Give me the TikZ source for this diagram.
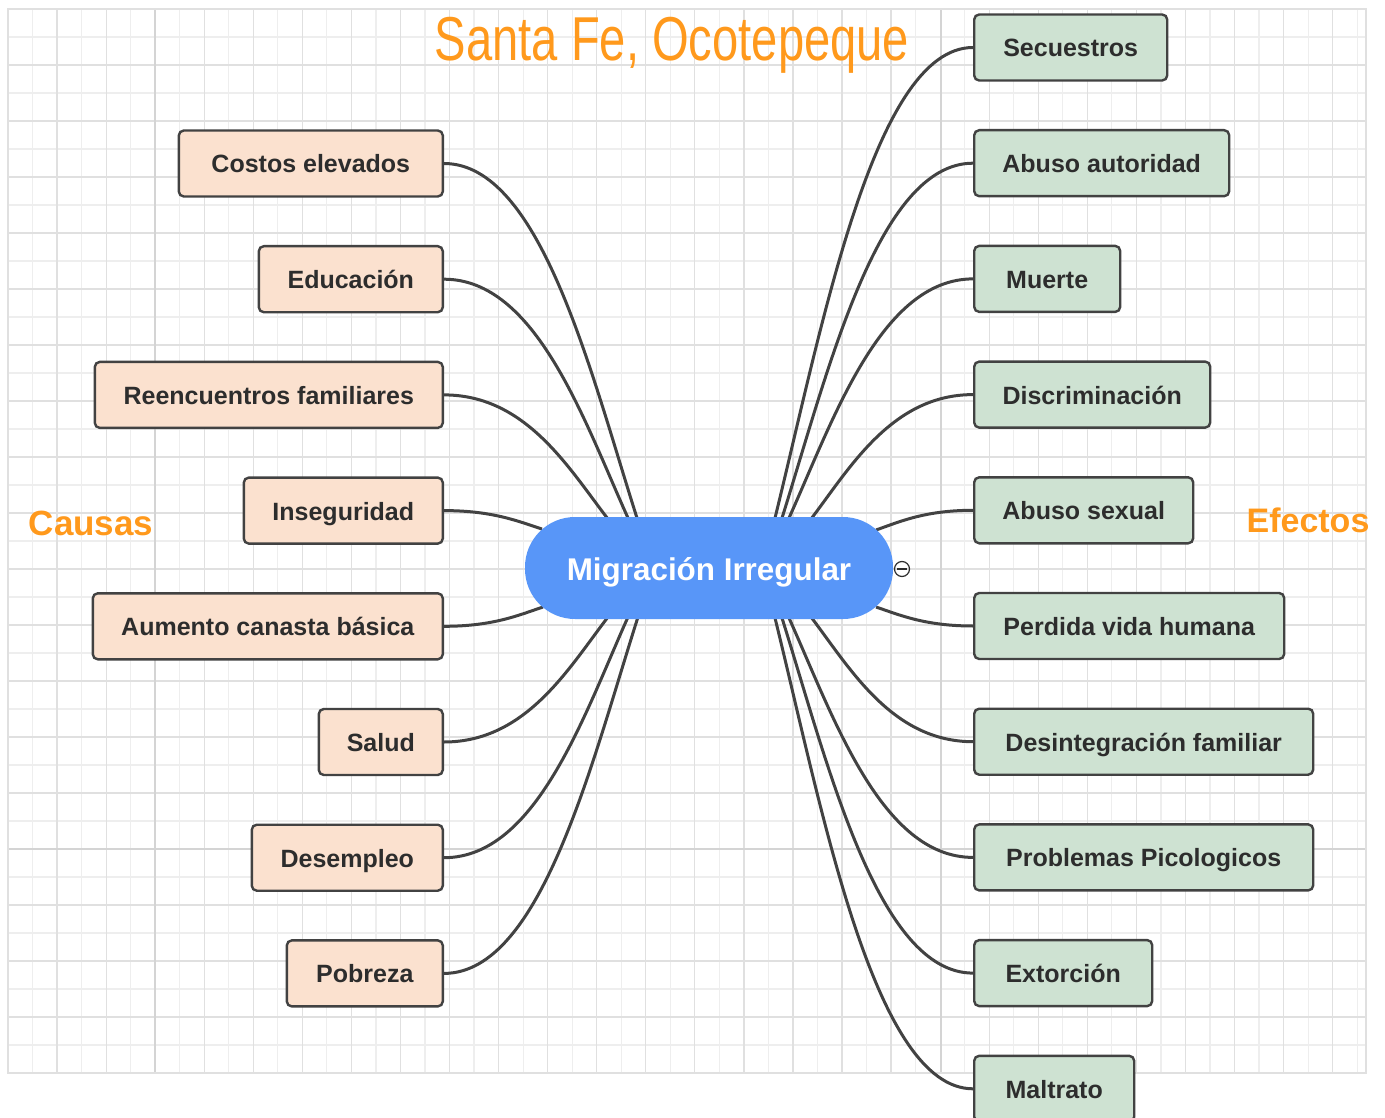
\documentclass[tikz,border=0pt]{standalone}
\usepackage{fontspec}
\usepackage{graphicx}
\setmainfont{Liberation Sans}
\usetikzlibrary{calc}
\definecolor{peach}{RGB}{251,225,207}
\definecolor{mint}{RGB}{206,226,210}
\definecolor{hub}{RGB}{88,150,248}
\definecolor{orng}{RGB}{255,153,28}
\definecolor{ink}{RGB}{45,45,45}
\definecolor{edgec}{RGB}{66,66,66}
\definecolor{gridA}{RGB}{238,238,238}
\definecolor{gridB}{RGB}{224,224,224}
\definecolor{gridC}{RGB}{212,212,212}
\newcommand\mmlink[2]{\draw[link] let \p1=(#1), \p2=(#2) in (\p1) .. controls ({0.5*\x1+0.5*\x2},\y1) and ({\x2-0.24*(\x2-\x1)},{\y2-0.41*(\y2-\y1)}) .. (\p2);}
\begin{document}
\begin{tikzpicture}[x=1pt,y=-1pt,
  boxbase/.style={draw=edgec, line width=2.4pt, rounded corners=5pt, minimum height=66pt, inner sep=0pt,
    font=\fontsize{25}{30}\selectfont\bfseries, text=ink, text height=19pt, text depth=0pt},
  cause/.style={boxbase, fill=peach, anchor=east},
  effect/.style={boxbase, fill=mint, anchor=west},
  hubnode/.style={fill=hub, rounded corners=50pt, minimum width=368pt, minimum height=102pt, inner sep=0pt,
    text=white, font=\fontsize{31.4}{36}\selectfont\bfseries, text height=25pt, text depth=0pt},
  link/.style={draw=edgec, line width=3pt},
  heading/.style={text=orng, inner sep=0pt, anchor=base, font=\fontsize{35}{40}\selectfont\bfseries}
]
\useasboundingbox (0,0) rectangle (1385,1118);
% grid
\foreach \i in {1,3,...,55} \draw[gridA, line width=1.2pt] ({8+24.53*\i},9) -- ({8+24.53*\i},1073);
\foreach \j in {1,3,...,37} \draw[gridA, line width=1.2pt] (8,{9+28*\j}) -- (1366,{9+28*\j});
\foreach \i in {2,4,...,54} \draw[gridB, line width=1.2pt] ({8+24.53*\i},9) -- ({8+24.53*\i},1073);
\foreach \j in {2,4,...,36} \draw[gridB, line width=1.2pt] (8,{9+28*\j}) -- (1366,{9+28*\j});
\draw[gridC, line width=1.4pt] (155,9) -- (155,1073);
\draw[gridC, line width=1.4pt] (941,9) -- (941,1073);
\draw[gridC, line width=1.4pt] (8,849) -- (1366,849);
\draw[gridB, line width=1.2pt] (8,9) rectangle (1366,1073);

% headings
\node[text=orng, inner sep=0pt, anchor=base, font=\fontsize{62}{70}\selectfont] (title) at (672,61) {\scalebox{0.76}[1]{Santa Fe, Ocotepeque}};
\node[heading] (causas) at (91,535) {Causas};
\node[heading, font=\fontsize{34}{40}\selectfont\bfseries] (efectos) at (1308,532) {Efectos};

% cause nodes
\node[cause, minimum width=264pt] (c1) at (444,163.5) {Costos elevados};
\node[cause, minimum width=184pt] (c2) at (444,279.2) {Educación};
\node[cause, minimum width=348pt] (c3) at (444,394.9) {Reencuentros familiares};
\node[cause, minimum width=199pt] (c4) at (444,510.6) {Inseguridad};
\node[cause, minimum width=350pt] (c5) at (444,626.3) {Aumento canasta básica};
\node[cause, minimum width=124pt] (c6) at (444,742) {Salud};
\node[cause, minimum width=191pt] (c7) at (444,857.7) {Desempleo};
\node[cause, minimum width=156pt] (c8) at (444,973.4) {Pobreza};

% effect nodes
\node[effect, minimum width=193pt] (r1) at (973,47.5) {Secuestros};
\node[effect, minimum width=255pt] (r2) at (973,163.2) {Abuso autoridad};
\node[effect, minimum width=146pt] (r3) at (973,278.9) {Muerte};
\node[effect, minimum width=236pt] (r4) at (973,394.6) {Discriminación};
\node[effect, minimum width=219pt] (r5) at (973,510.3) {Abuso sexual};
\node[effect, minimum width=310pt] (r6) at (973,626) {Perdida vida humana};
\node[effect, minimum width=339pt] (r7) at (973,741.7) {Desintegración familiar};
\node[effect, minimum width=339pt] (r8) at (973,857.4) {Problemas Picologicos};
\node[effect, minimum width=178pt] (r9) at (973,973.1) {Extorción};
\node[effect, minimum width=160pt] (r10) at (973,1088.8) {Maltrato};

% hub attachment points
\coordinate (e1) at (637,518);
\coordinate (e2) at (628,518);
\coordinate (e3) at (608,519);
\coordinate (e4) at (542,529);
\coordinate (e5) at (543,607);
\coordinate (e6) at (608,617);
\coordinate (e7) at (628,617);
\coordinate (e8) at (638,617);
\coordinate (f1) at (775,518);
\coordinate (f2) at (782,518);
\coordinate (f3) at (789,518);
\coordinate (f4) at (811,519);
\coordinate (f5) at (876,530);
\coordinate (f6) at (876,607);
\coordinate (f7) at (811,617);
\coordinate (f8) at (789,618);
\coordinate (f9) at (782,618);
\coordinate (f10) at (775,618);

% connectors
\mmlink{c1.east}{e1}
\mmlink{c2.east}{e2}
\mmlink{c3.east}{e3}
\mmlink{c4.east}{e4}
\mmlink{c5.east}{e5}
\mmlink{c6.east}{e6}
\mmlink{c7.east}{e7}
\mmlink{c8.east}{e8}
\mmlink{r1.west}{f1}
\mmlink{r2.west}{f2}
\mmlink{r3.west}{f3}
\mmlink{r4.west}{f4}
\mmlink{r5.west}{f5}
\mmlink{r6.west}{f6}
\mmlink{r7.west}{f7}
\mmlink{r8.west}{f8}
\mmlink{r9.west}{f9}
\mmlink{r10.west}{f10}

% hub
\node[hubnode] (hubc) at (709,568) {Migración Irregular};
\node[circle, draw=ink, line width=1.2pt, minimum size=15pt, inner sep=0pt] (tog) at (902,569) {};
\draw[ink, line width=1.2pt] ($(tog.west)+(3.5,0)$) -- ($(tog.east)+(-3.5,0)$);
\end{tikzpicture}
\end{document}
